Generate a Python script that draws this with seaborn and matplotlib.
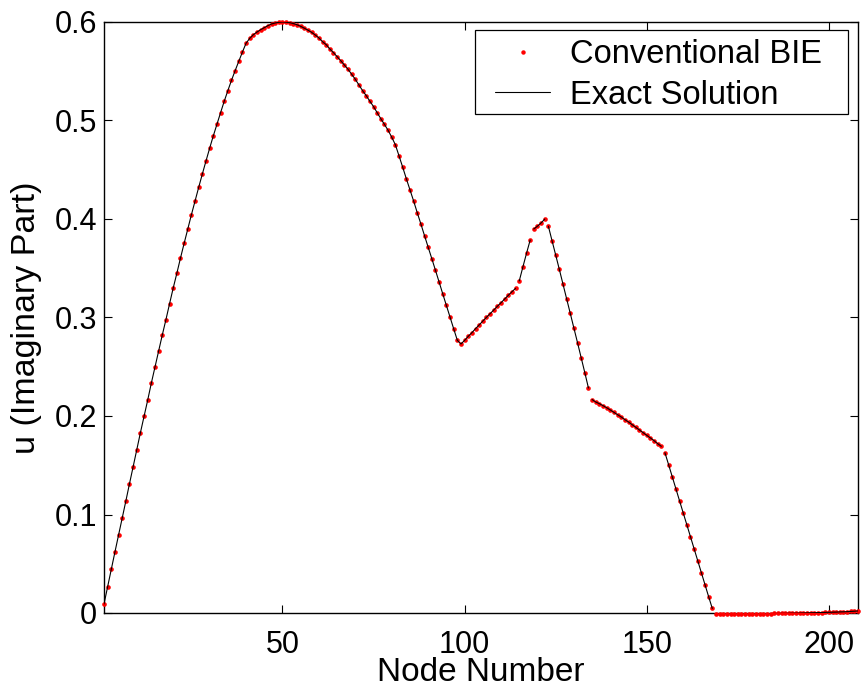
import numpy as np
import pandas as pd
import matplotlib
matplotlib.use('Agg')
import matplotlib.pyplot as plt
import seaborn as sns
from matplotlib.lines import Line2D
from matplotlib.patches import Rectangle

# ---- data ----
u_bie = [
    # nodes 1-18
    0.0091, 0.0267, 0.0443, 0.0619, 0.0792, 0.0964, 0.1137, 0.1313, 0.1485, 0.1658,
    0.1831, 0.1997, 0.2162, 0.2335, 0.2497, 0.2660, 0.2822, 0.2978,
    # nodes 19-41
    0.3140, 0.3299, 0.3449, 0.3604, 0.3753, 0.3898, 0.4044, 0.4183, 0.4322, 0.4457,
    0.4589, 0.4718, 0.4843, 0.4961, 0.5079, 0.5195, 0.5303, 0.5408, 0.5506, 0.5601,
    0.5695, 0.5784, 0.5834,
    # nodes 42-50
    0.5871, 0.5898, 0.5922, 0.5942, 0.5963, 0.5980, 0.5990, 0.5997, 0.6000,
    # nodes 51-60
    0.5998, 0.5993, 0.5984, 0.5972, 0.5956, 0.5937, 0.5917, 0.5895, 0.5868, 0.5838,
    # nodes 61-80
    0.5800, 0.5770, 0.5726, 0.5689, 0.5648, 0.5607, 0.5563, 0.5520, 0.5469, 0.5418,
    0.5360, 0.5303, 0.5252, 0.5195, 0.5141, 0.5079, 0.5018, 0.4960, 0.4900, 0.4830,
    # nodes 81-98
    0.4753, 0.4640, 0.4526, 0.4409, 0.4296, 0.4183, 0.4064, 0.3949, 0.3830, 0.3713,
    0.3597, 0.3479, 0.3360, 0.3240, 0.3122, 0.3004, 0.2885, 0.2769,
    # nodes 99-114
    0.2731, 0.2768, 0.2809, 0.2846, 0.2887, 0.2924, 0.2964, 0.3002, 0.3039, 0.3076,
    0.3114, 0.3150, 0.3188, 0.3225, 0.3262, 0.3296,
    # nodes 115-118
    0.3371, 0.3513, 0.3652, 0.3786,
    # nodes 119-122
    0.3899, 0.3927, 0.3960, 0.3999,
    # nodes 123-134
    0.3926, 0.3780, 0.3635, 0.3489, 0.3340, 0.3191, 0.3043, 0.2893, 0.2744, 0.2592,
    0.2440, 0.2284,
    # nodes 135-154
    0.2167, 0.2142, 0.2125, 0.2105, 0.2084, 0.2061, 0.2037, 0.2013, 0.1990, 0.1963,
    0.1939, 0.1912, 0.1885, 0.1858, 0.1831, 0.1804, 0.1777, 0.1750, 0.1719, 0.1692,
    # nodes 155-168
    0.1627, 0.1506, 0.1384, 0.1262, 0.1140, 0.1018, 0.0897, 0.0775, 0.0653, 0.0531,
    0.0409, 0.0287, 0.0165, 0.0046,
    # nodes 169-208
    -0.0013, -0.0013, -0.0012, -0.0012, -0.0011, -0.0011, -0.0010, -0.0010, -0.0009, -0.0009,
    -0.0008, -0.0008, -0.0007, -0.0007, -0.0006, -0.0006, -0.0005, -0.0005, -0.0004, -0.0004,
    -0.0003, -0.0002, -0.0002, -0.0001, 0.0000, 0.0001, 0.0002, 0.0003, 0.0004, 0.0005,
    0.0006, 0.0007, 0.0008, 0.0009, 0.0011, 0.0012, 0.0014, 0.0016, 0.0018, 0.0021,
]
# first node of each boundary side (exact solution drawn side by side)
side_start_nodes = [1, 115, 119, 123, 135, 155, 169]

x_ticks = [50, 100, 150, 200]
y_ticks = [0, 0.1, 0.2, 0.3, 0.4, 0.5, 0.6]
y_tick_labels = ['0', '0.1', '0.2', '0.3', '0.4', '0.5', '0.6']
series_labels = ['Conventional BIE', 'Exact Solution']

nodes = np.arange(1, len(u_bie) + 1)
side = np.searchsorted(side_start_nodes, nodes, side='right')
df = pd.DataFrame({'node': nodes, 'u': u_bie, 'side': side})

sns.set_theme(style='ticks')
plt.rcParams['font.family'] = ['Liberation Sans', 'DejaVu Sans']
plt.rcParams['text.color'] = 'black'

W, H = 861, 689
fig = plt.figure(figsize=(W / 100, H / 100), dpi=100)
ax = fig.add_axes([104 / W, 76 / H, 754 / W, 591 / H])

sns.scatterplot(data=df, x='node', y='u', color='red', s=11, linewidth=0,
                ax=ax, zorder=3, clip_on=False, legend=False)
sns.lineplot(data=df, x='node', y='u', units='side', estimator=None,
             color='black', lw=0.8, ax=ax, zorder=4, legend=False)

ax.set_xlim(1, len(u_bie))
ax.set_ylim(0, 0.6)
ax.set_xticks(x_ticks)
ax.set_xticklabels([str(t) for t in x_ticks])
ax.set_yticks(y_ticks)
ax.set_yticklabels(y_tick_labels)

for s in ax.spines.values():
    s.set_visible(True)
    s.set_linewidth(1.0)
    s.set_color('black')
ax.tick_params(direction='in', length=5.8, width=0.8, top=True, right=True,
               labelsize=22, colors='black')
ax.tick_params(axis='y', pad=5)
ax.tick_params(axis='x', pad=12)

ax.set_xlabel('Node Number', fontsize=24, color='black')
ax.set_ylabel('u (Imaginary Part)', fontsize=24.5, color='black')
ax.xaxis.set_label_coords(0.5, -0.075)
ax.yaxis.set_label_coords(-0.082, 0.5)

# legend: frame drawn as a rectangle, entries placed inside it
def fig_px(x, y):
    return x / W, 1 - y / H

x0, y0 = fig_px(475, 114)
x1, y1 = fig_px(848, 30)
ax.add_patch(Rectangle((x0, y0), x1 - x0, y1 - y0, transform=fig.transFigure,
                       facecolor='white', edgecolor='black', lw=0.9,
                       zorder=5, clip_on=False))

handles = [
    Line2D([], [], ls='none', marker='o', ms=3.2, color='red', mec='none'),
    Line2D([], [], color='black', lw=0.8),
]
leg = ax.legend(handles, series_labels, loc='upper left',
                bbox_to_anchor=fig_px(495, 39), bbox_transform=fig.transFigure,
                borderaxespad=0, borderpad=0, fontsize=23.5, frameon=False,
                handlelength=1.69, handletextpad=0.61, labelspacing=0.3,
                labelcolor='black')
leg.set_zorder(6)

fig.savefig('out.png', dpi=100)
